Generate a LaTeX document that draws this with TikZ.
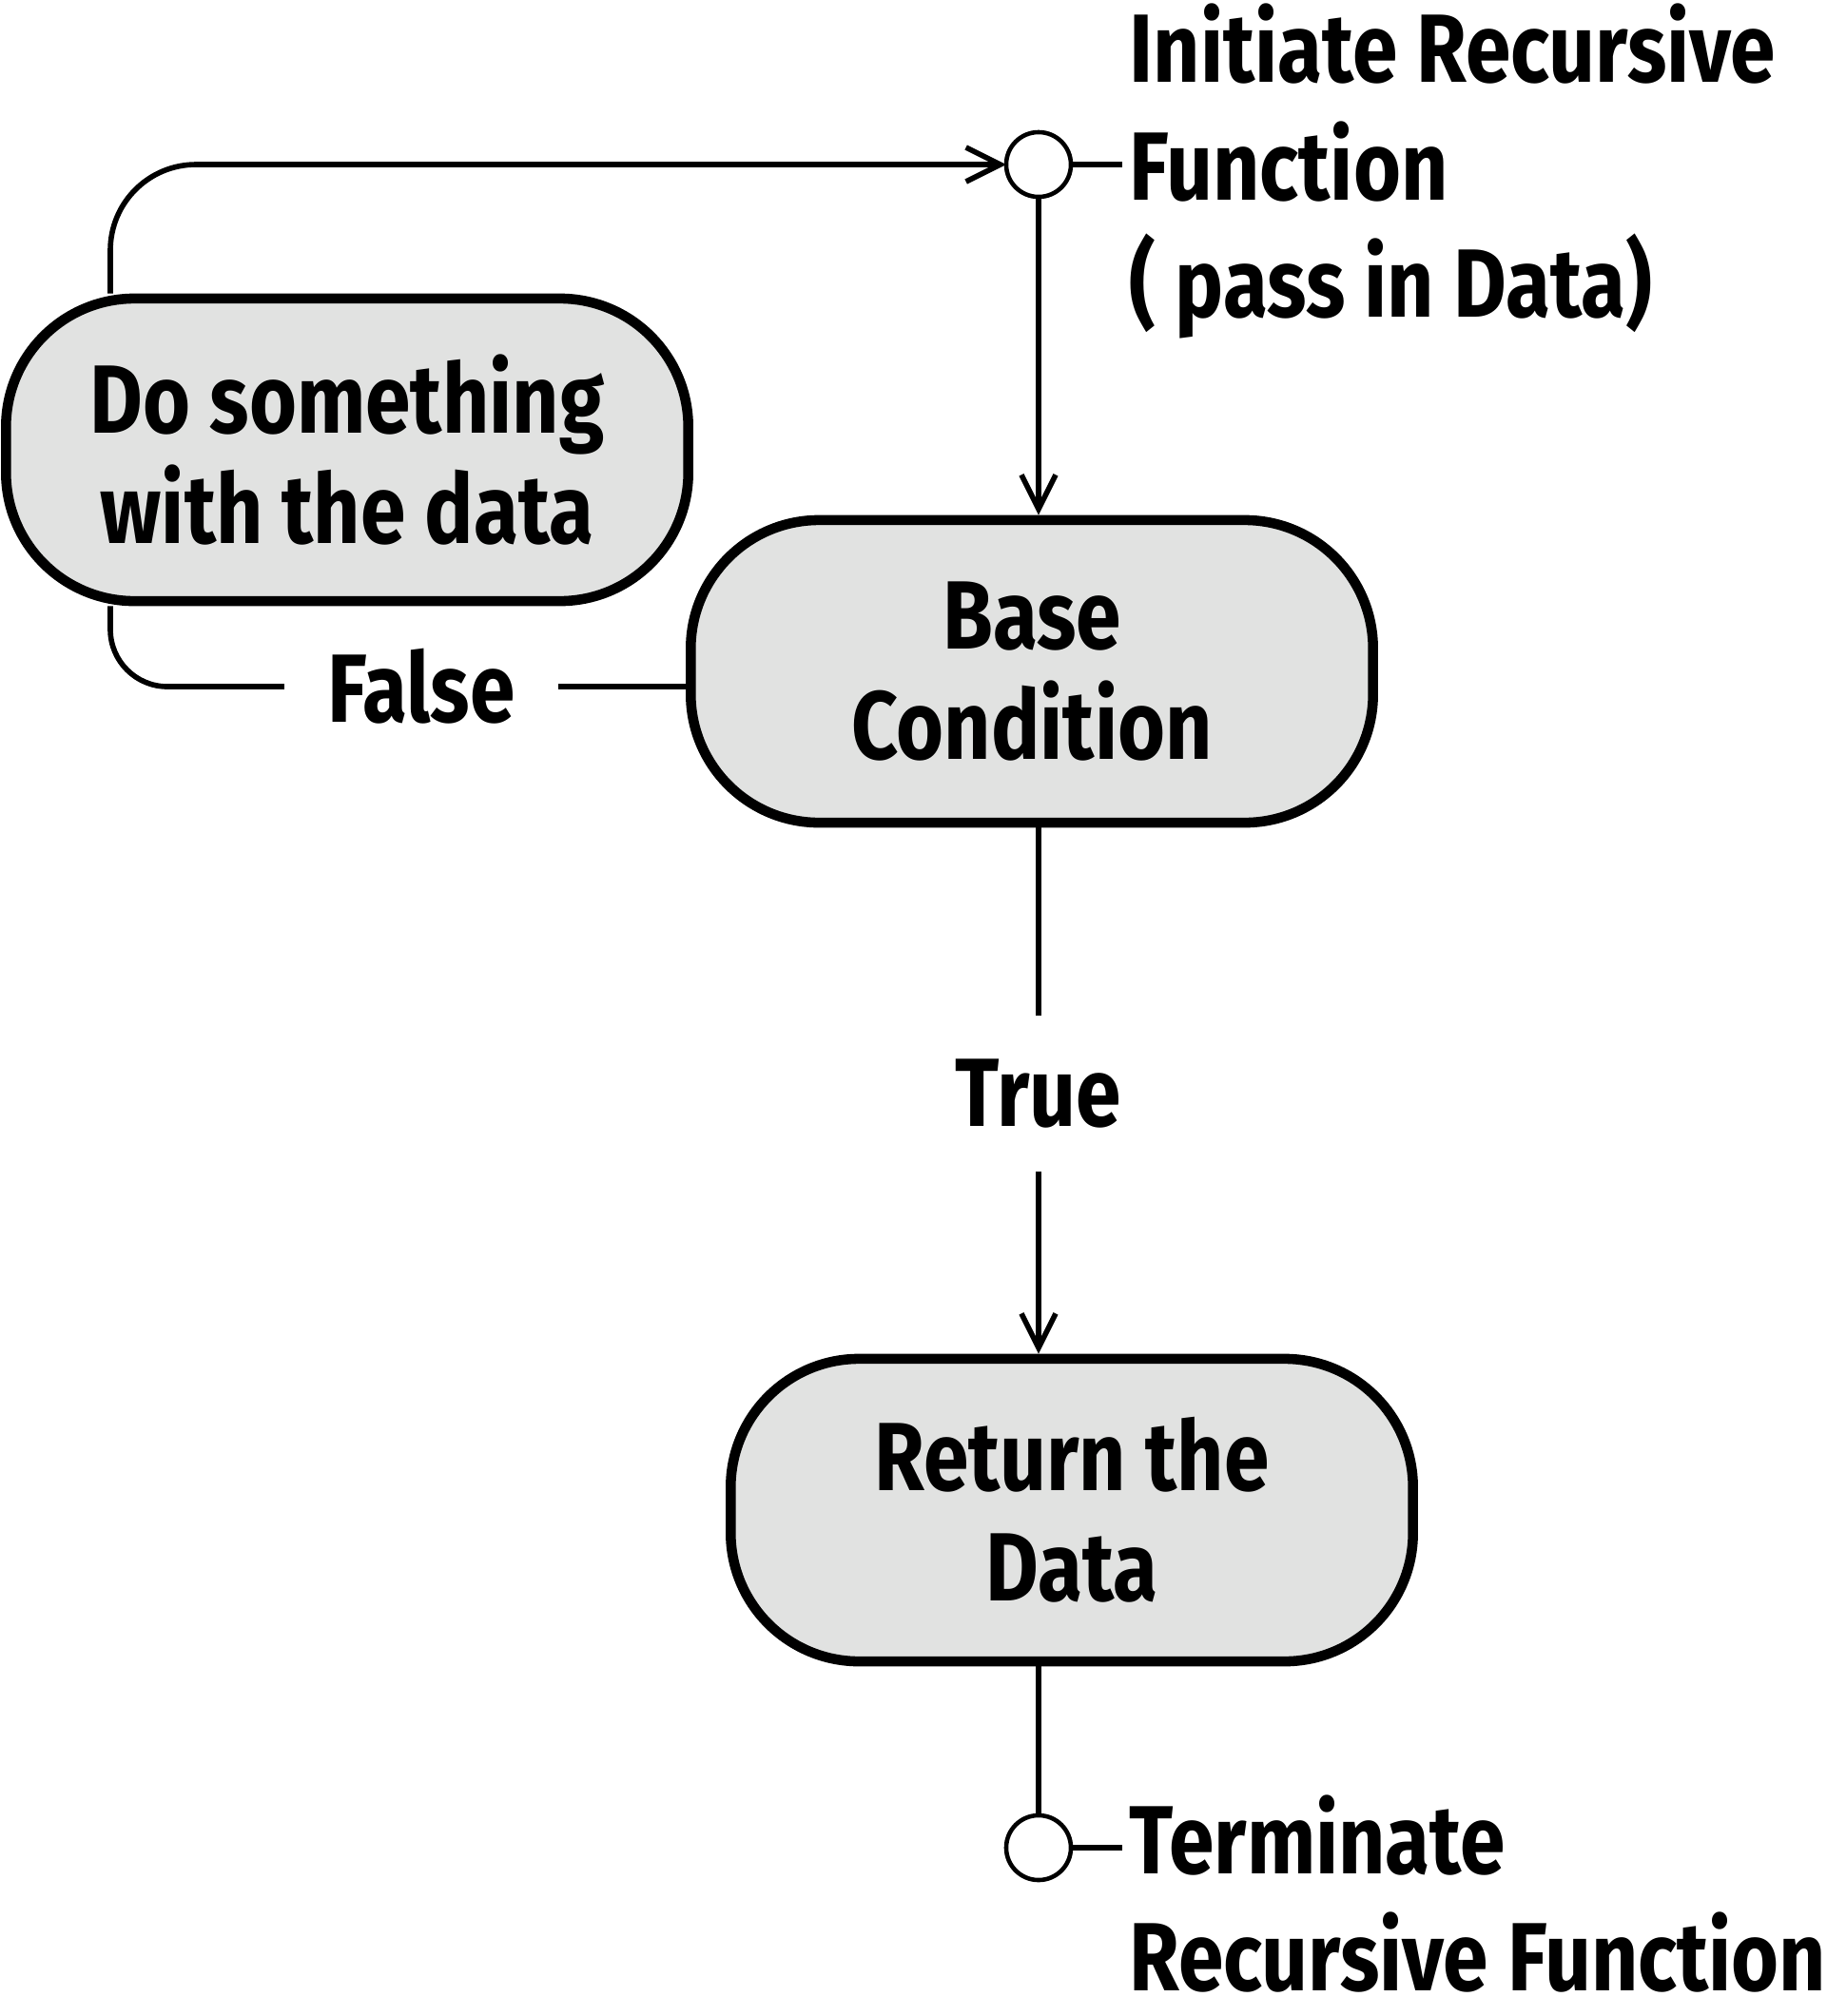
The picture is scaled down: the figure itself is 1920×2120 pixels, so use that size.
\documentclass[tikz,border=0pt]{standalone}
\usepackage{fontspec}
\setmainfont{Fira Sans}[FakeStretch=0.84]
\usepackage{tikz}
\usetikzlibrary{arrows.meta,shapes,calc,positioning}
\definecolor{grisClaro}{RGB}{225,226,225}
\tikzstyle{edge}  =[>={Straight Barb[length=0.36cm,width=0.36cm]},
                    line width=1.6pt]
\tikzstyle{state} =[rectangle, draw, rounded corners=1.35cm,
                    fill=grisClaro, line width=3pt,
                    minimum width=7.17cm, minimum height=3.18cm,
                    align=center, font=\fontsize{29}{33}\selectfont\bfseries]
\tikzstyle{pin}   =[circle, draw, fill=white, minimum size=0.68cm,
                    line width=1.3pt, inner sep=0pt, outer sep=0pt]
\tikzstyle{tag}   =[align=left, inner sep=2pt,
                    font=\fontsize{29}{35}\selectfont\bfseries]
\tikzstyle{cond}  =[inner sep=0.45cm,
                    font=\fontsize{29}{35}\selectfont\bfseries]

\begin{document}
\begin{tikzpicture}[x=0.01cm,y=-0.01cm]
\useasboundingbox (0,0) rectangle (1920,2120);

%%%%%%%%%%%%%%%%%%%%%%%%%%%%%%%%%%%%%%%%%%%%%%%%
%%%%%%%%%%        Start / Stop        %%%%%%%%%%
%%%%%%%%%%%%%%%%%%%%%%%%%%%%%%%%%%%%%%%%%%%%%%%%
\node (start) [pin] at (1092,173){};
\node (startL) [tag,anchor=west] at (1180,180){Initiate Recursive\\Function\\( pass in Data)};
\draw [edge] (start) -- (start -| startL.west);

\node (stop) [pin] at (1092,1943){};
\node (stopL) [tag,anchor=north west] at (1180,1880){Terminate\\Recursive Function};
\draw [edge] (stop) -- (stop -| stopL.west);

%%%%%%%%%%%%%%%%%%%%%%%%%%%%%%%%%%%%%%%%%%%%%%%%
%%%%%%%%%%           States           %%%%%%%%%%
%%%%%%%%%%%%%%%%%%%%%%%%%%%%%%%%%%%%%%%%%%%%%%%%
\node (dosth) [state] at (365,473){Do something\\with the data};
\node (base)  [state] at (1085,706){Base\\Condition};
\node (ret)   [state] at (1127,1588){Return the\\Data};

\node (false) [cond] at (443,722){False};
\node (true)  [cond] at (1092,1150){True};

%%%%%%%%%%%%%%%%%%%%%%%%%%%%%%%%%%%%%%%%%%%%%%%%
%%%%%%%%%%           Edges            %%%%%%%%%%
%%%%%%%%%%%%%%%%%%%%%%%%%%%%%%%%%%%%%%%%%%%%%%%%
\draw [edge,->] (start) -- (start |- base.north);
\draw [edge] (true |- base.south) -- (true);
\draw [edge,->] (true) -- (true |- ret.north);
\draw [edge] (stop |- ret.south) -- (stop);

\draw [edge] (false.east -| base.west) -- (false.east);
\coordinate (dosthB) at ($(dosth.south west)+(115,0)$);
\draw [edge,rounded corners=0.6cm] (dosthB) |- (false.west);
\coordinate (dosthT) at ($(dosth.north west)+(115,0)$);
\draw [edge,->,rounded corners=0.9cm] (dosthT) |- (start);

\end{tikzpicture}
\end{document}
